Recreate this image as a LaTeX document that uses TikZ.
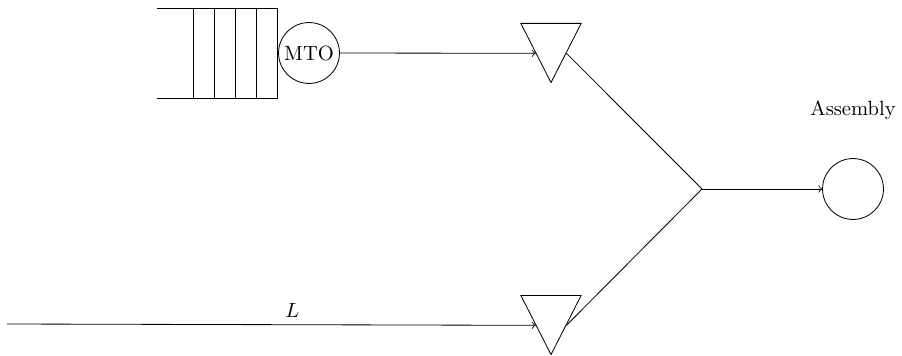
\documentclass[tikz,border=0pt]{standalone}
\usetikzlibrary{positioning,shapes.geometric}

\begin{document}
\begin{tikzpicture}[x=0.01707cm, y=-0.01707cm,
  srv/.style={draw, circle, inner sep=0pt, minimum size=1.04cm},
  tri/.style={draw, isosceles triangle, isosceles triangle stretches, shape border rotate=270,
    inner sep=0pt, minimum width=1.03cm, minimum height=1.01cm, anchor=lower side}]
\useasboundingbox (0,0) rectangle (902,356);
\node[srv] (mto) at (309,53) {MTO};
\node[tri] (t1) at (551,23) {};
\node[tri] (t2) at (551,295) {};
\coordinate (join) at (702,189);
\node[srv] (asm) at (853,189) {};
\node[above=0.54cm of asm] (asml) {Assembly};
\coordinate (src) at (7,324);
\draw (157,8) -- (278,8); \draw (157,98) -- (278,98);
\foreach \x in {193,214,235,256,277} \draw (\x,8) -- (\x,98);
\draw[->] (mto.east) -- (t1.right side);
\draw[->] (src) -- node[pos=0.54, above] (lbl) {$L$} (t2.right side);
\draw (t1.left side) -- (join); \draw (t2.left side) -- (join);
\draw[->] (join) -- (asm);
\end{tikzpicture}
\end{document}
